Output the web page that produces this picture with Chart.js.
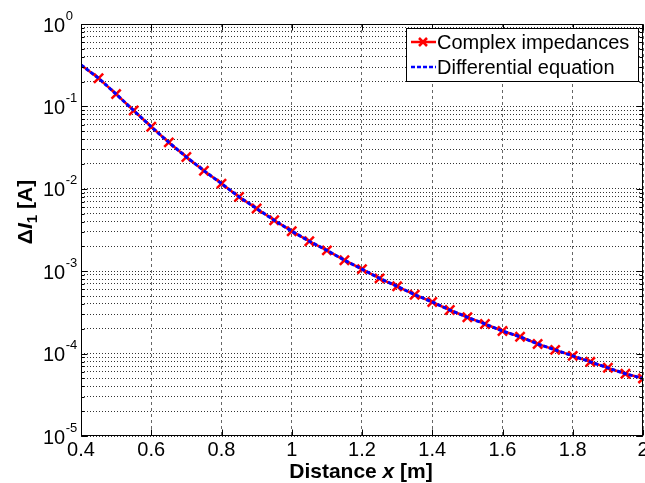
<!DOCTYPE html>
<html>
<head>
<meta charset="utf-8">
<script src="https://cdn.jsdelivr.net/npm/chart.js@4.4.1/dist/chart.umd.min.js"></script>
<style>
  html, body { margin: 0; padding: 0; background: #fff; }
  #wrap { width: 645px; height: 483px; }
</style>
</head>
<body>
<div id="wrap"><canvas id="myChart"></canvas></div>
<script>
// distance along the line [m]
const distance = [0.4, 0.45, 0.5, 0.55, 0.6, 0.65, 0.7, 0.75, 0.8, 0.85, 0.9, 0.95,
    1.0, 1.05, 1.1, 1.15, 1.2, 1.25, 1.3, 1.35, 1.4, 1.45, 1.5, 1.55,
    1.6, 1.65, 1.7, 1.75, 1.8, 1.85, 1.9, 1.95, 2.0];

// current difference [A]
const deltaI = [0.319, 0.220, 0.141, 0.0892, 0.0566, 0.0366, 0.0243, 0.0166, 0.01156, 0.00798, 0.00576, 0.00415,
    0.00306, 0.00231, 0.00179, 0.00136, 0.00106, 0.000818, 0.000655, 0.000519, 0.000423, 0.000338, 0.000276, 0.000229,
    0.000188, 0.000160, 0.000131, 0.000111, 0.0000938, 0.0000794, 0.0000672, 0.0000569, 0.0000500];

const xTicks = [0.4, 0.6, 0.8, 1.0, 1.2, 1.4, 1.6, 1.8, 2.0];
const yExponents = [0, -1, -2, -3, -4, -5];
const legendLabels = ['Complex impedances', 'Differential equation'];

// 1..9 x 10^n gridlines for the log axis
const yTicks = [];
for (let e = -5; e < 0; e++) {
    for (let m = 1; m <= 9; m++) yTicks.push(m * Math.pow(10, e));
}
yTicks.push(1);

const FONT = '"Liberation Sans", Arial, sans-serif';
const RED = '#ff0000';
const BLUE = '#0000ff';

const points = distance.map((x, i) => ({ x: x, y: deltaI[i] }));

// frame round the plot area, with inward tick marks
const boxPlugin = {
    id: 'box',
    afterDraw(chart) {
        const a = chart.chartArea, c = chart.ctx;
        const L = Math.round(a.left) + 0.5, R = Math.round(a.right) - 0.5;
        const T = Math.round(a.top) + 0.5, B = Math.round(a.bottom) - 0.5;
        c.save();
        c.strokeStyle = '#000';
        c.lineWidth = 1;
        c.strokeRect(L, T, R - L, B - T);
        c.beginPath();
        xTicks.forEach(v => {
            const px = Math.round(chart.scales.x.getPixelForValue(v)) + 0.5;
            c.moveTo(px, B); c.lineTo(px, B - 6);
            c.moveTo(px, T); c.lineTo(px, T + 6);
        });
        yTicks.forEach(v => {
            const py = Math.round(chart.scales.y.getPixelForValue(v)) + 0.5;
            const len = Math.abs(Math.log10(v) - Math.round(Math.log10(v))) < 1e-9 ? 6 : 3;
            c.moveTo(L, py); c.lineTo(L + len, py);
            c.moveTo(R, py); c.lineTo(R - len, py);
        });
        c.stroke();
        c.restore();
    }
};

// 10^n labels on the y axis
const yLabelPlugin = {
    id: 'yLabels',
    afterDraw(chart) {
        const c = chart.ctx, y = chart.scales.y;
        c.save();
        c.fillStyle = '#000';
        c.textBaseline = 'middle';
        c.textAlign = 'left';
        yExponents.forEach(e => {
            const py = y.getPixelForValue(Math.pow(10, e));
            c.font = '20px ' + FONT;
            c.fillText('10', 43, py + 2);
            const w = c.measureText('10').width;
            c.font = '13px ' + FONT;
            c.fillText(e === 0 ? '0' : '-' + Math.abs(e), 43 + w + 0.5, py - 8);
        });
        c.restore();
    }
};

// axis titles with italic symbols
const titlePlugin = {
    id: 'titles',
    afterDraw(chart) {
        const c = chart.ctx;
        c.save();
        c.fillStyle = '#000';
        c.textBaseline = 'alphabetic';
        const parts = [
            { t: 'Distance ', f: 'bold 21px ' + FONT },
            { t: 'x', f: 'italic bold 21px ' + FONT },
            { t: ' [m]', f: 'bold 21px ' + FONT }
        ];
        let total = 0;
        parts.forEach(p => { c.font = p.f; p.w = c.measureText(p.t).width; total += p.w; });
        let x = 361 - total / 2;
        parts.forEach(p => { c.font = p.f; c.fillText(p.t, x, 478); x += p.w; });

        // vertical title
        c.translate(32, 212);
        c.rotate(-Math.PI / 2);
        const yp = [
            { t: '\u0394', f: 'bold 21px ' + FONT, dy: 0 },
            { t: 'I', f: 'italic bold 21px ' + FONT, dy: 0 },
            { t: '1', f: 'bold 15px ' + FONT, dy: 5 },
            { t: ' [A]', f: 'bold 21px ' + FONT, dy: 0 }
        ];
        total = 0;
        yp.forEach(p => { c.font = p.f; p.w = c.measureText(p.t).width; total += p.w; });
        x = -total / 2;
        yp.forEach(p => { c.font = p.f; c.fillText(p.t, x, p.dy); x += p.w; });
        c.restore();
    }
};

// legend box in the upper right corner
const legendPlugin = {
    id: 'legendBox',
    afterDraw(chart) {
        const c = chart.ctx;
        c.save();
        c.fillStyle = '#fff';
        c.fillRect(406, 28, 233, 54);
        c.strokeStyle = '#000';
        c.lineWidth = 1;
        c.strokeRect(406.5, 28.5, 232, 53);
        const rows = [42, 67];
        // red line with cross
        c.strokeStyle = RED;
        c.lineWidth = 2.5;
        c.beginPath(); c.moveTo(411, rows[0]); c.lineTo(436, rows[0]); c.stroke();
        c.beginPath();
        c.moveTo(419, rows[0] - 4); c.lineTo(427, rows[0] + 4);
        c.moveTo(427, rows[0] - 4); c.lineTo(419, rows[0] + 4);
        c.stroke();
        // blue dashed line
        c.strokeStyle = BLUE;
        c.setLineDash([4, 2]);
        c.beginPath(); c.moveTo(411, rows[1]); c.lineTo(436, rows[1]); c.stroke();
        c.setLineDash([]);
        c.fillStyle = '#000';
        c.font = '20px ' + FONT;
        c.textBaseline = 'middle';
        c.fillText(legendLabels[0], 437, rows[0] + 1);
        c.fillText(legendLabels[1], 437, rows[1] + 1);
        c.restore();
    }
};

const ctx = document.getElementById('myChart').getContext('2d');
const myChart = new Chart(ctx, {
    type: 'line',
    data: {
        datasets: [
            {
                label: legendLabels[1],
                data: points,
                borderColor: BLUE,
                borderWidth: 3,
                borderDash: [4, 2],
                pointRadius: 0,
                fill: false,
                tension: 0
            },
            {
                label: legendLabels[0],
                data: points,
                borderColor: RED,
                backgroundColor: RED,
                borderWidth: 2.5,
                pointStyle: 'crossRot',
                pointRadius: c => (c.dataIndex === 0 ? 0 : 6.5),
                pointBorderWidth: 2.5,
                pointBorderColor: RED,
                fill: false,
                tension: 0
            }
        ]
    },
    options: {
        responsive: true,
        maintainAspectRatio: false,
        animation: false,
        layout: { autoPadding: false, padding: { left: 81, top: 24, right: 2, bottom: 19 } },
        plugins: {
            legend: { display: false },
            tooltip: { enabled: false }
        },
        scales: {
            x: {
                type: 'linear',
                min: 0.4,
                max: 2,
                afterBuildTicks: s => { s.ticks = xTicks.map(v => ({ value: v })); },
                afterFit: s => { s.paddingLeft = 0; s.paddingRight = 0; },
                ticks: {
                    color: '#000',
                    font: { family: FONT, size: 20 },
                    padding: 2,
                    maxRotation: 0,
                    autoSkip: false,
                    callback: v => String(Number(v.toFixed(1)))
                },
                grid: { color: '#666', lineWidth: 1, drawTicks: false },
                border: { display: false, dash: [3, 3] }
            },
            y: {
                type: 'logarithmic',
                min: 1e-5,
                max: 1,
                afterBuildTicks: s => { s.ticks = yTicks.map(v => ({ value: v })); },
                ticks: { display: false },
                grid: { color: '#333', lineWidth: 1, drawTicks: false },
                border: { display: false, dash: [1, 2] }
            }
        }
    },
    plugins: [boxPlugin, yLabelPlugin, titlePlugin, legendPlugin]
});
</script>
</body>
</html>
